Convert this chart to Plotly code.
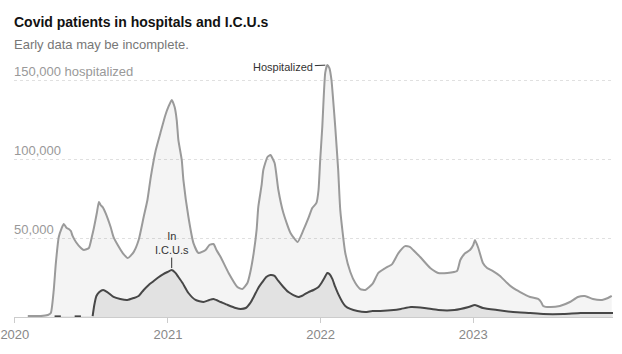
import plotly.graph_objects as go

# ---- data ----
hosp_dates = [
    "2020-02-01", "2020-03-03", "2020-03-20", "2020-03-27", "2020-04-03", "2020-04-08", "2020-04-15",
    "2020-04-22", "2020-04-27", "2020-05-04", "2020-05-09", "2020-05-14", "2020-05-18", "2020-05-26",
    "2020-06-07", "2020-06-14", "2020-06-26", "2020-07-03", "2020-07-08", "2020-07-15", "2020-07-20",
    "2020-07-24", "2020-07-29", "2020-08-05", "2020-08-17", "2020-08-24", "2020-09-03", "2020-09-15",
    "2020-09-27", "2020-10-11", "2020-10-23", "2020-11-04", "2020-11-13", "2020-11-21", "2020-12-03",
    "2020-12-14", "2020-12-26", "2021-01-03", "2021-01-10", "2021-01-17", "2021-01-22", "2021-01-26",
    "2021-02-03", "2021-02-07", "2021-02-19", "2021-03-03", "2021-03-15", "2021-04-01", "2021-04-10",
    "2021-04-20", "2021-04-27", "2021-05-07", "2021-05-26", "2021-06-16", "2021-06-28", "2021-07-10",
    "2021-07-17", "2021-07-25", "2021-08-01", "2021-08-05", "2021-08-13", "2021-08-17", "2021-08-27",
    "2021-09-03", "2021-09-13", "2021-09-22", "2021-10-04", "2021-10-21", "2021-11-07", "2021-11-21",
    "2021-12-03", "2021-12-12", "2021-12-22", "2021-12-27", "2021-12-31", "2022-01-05", "2022-01-12",
    "2022-01-17", "2022-01-22", "2022-01-27", "2022-01-31", "2022-02-05", "2022-02-12", "2022-02-17",
    "2022-03-01", "2022-03-13", "2022-03-25", "2022-04-06", "2022-04-18", "2022-05-05", "2022-05-19",
    "2022-06-05", "2022-06-21", "2022-07-06", "2022-07-22", "2022-08-03", "2022-08-15", "2022-08-27",
    "2022-09-20", "2022-10-09", "2022-10-31", "2022-11-23", "2022-12-01", "2022-12-13", "2022-12-24",
    "2023-01-01", "2023-01-05", "2023-01-13", "2023-01-24", "2023-02-03", "2023-02-17", "2023-03-06",
    "2023-03-23", "2023-04-06", "2023-04-23", "2023-05-17", "2023-06-05", "2023-06-12", "2023-06-17",
    "2023-07-03", "2023-07-27", "2023-08-20", "2023-09-08", "2023-09-25", "2023-10-14", "2023-11-05",
    "2023-11-19", "2023-11-28",
]
hosp_values = [
    600, 600, 1300, 2500, 17000, 34000, 50600,
    56300, 58900, 56300, 55700, 54400, 51300, 47500,
    43700, 42400, 43700, 50600, 56300, 65800, 72800,
    70900, 69600, 65800, 57000, 50600, 45600, 40500,
    37300, 41100, 48700, 63300, 74100, 88600, 105700,
    116500, 127900, 133600, 137400, 132900, 124700, 112000,
    99400, 86700, 63300, 46800, 40500, 42400, 45600,
    46200, 42400, 38000, 27900, 19000, 17700, 21500,
    28500, 40500, 55100, 69600, 83600, 93100, 101300,
    102500, 97500, 80400, 65800, 53200, 47500, 55100,
    62700, 69000, 72200, 80400, 99400, 120300, 154500,
    159500, 157600, 150000, 137400, 120300, 93100, 67700,
    40500, 28500, 21500, 17700, 17100, 20900, 27900,
    31000, 33500, 40500, 44900, 44300, 41100, 38000,
    31000, 27900, 27900, 29100, 36100, 40500, 42400,
    45600, 48700, 43700, 34200, 31000, 29100, 26000,
    21500, 18400, 15800, 12700, 11400, 9500, 7000,
    6300, 7000, 9500, 12700, 13300, 11400, 10800,
    12000, 13300,
]

icu_dates = [
    "2020-04-05", "2020-04-20", "2020-04-21", "2020-05-23", "2020-06-07", "2020-06-08",
    "2020-07-05", "2020-07-09", "2020-07-14", "2020-07-21", "2020-07-30", "2020-08-09", "2020-08-24",
    "2020-09-09", "2020-09-26", "2020-10-11", "2020-10-23", "2020-11-04", "2020-11-16", "2020-11-25",
    "2020-12-07", "2020-12-21", "2020-12-31", "2021-01-10", "2021-01-19", "2021-01-26", "2021-02-05",
    "2021-02-19", "2021-03-08", "2021-03-27", "2021-04-10", "2021-04-20", "2021-05-07", "2021-05-24",
    "2021-06-12", "2021-06-24", "2021-07-06", "2021-07-17", "2021-07-25", "2021-08-05", "2021-08-15",
    "2021-08-24", "2021-09-03", "2021-09-13", "2021-09-22", "2021-10-04", "2021-10-16", "2021-10-28",
    "2021-11-09", "2021-11-21", "2021-12-03", "2021-12-15", "2021-12-27", "2022-01-03", "2022-01-10",
    "2022-01-17", "2022-01-22", "2022-01-29", "2022-02-05", "2022-02-12", "2022-02-22", "2022-03-01",
    "2022-03-13", "2022-03-30", "2022-04-18", "2022-05-05", "2022-05-24", "2022-06-25", "2022-07-12",
    "2022-08-05", "2022-09-06", "2022-10-09", "2022-11-17", "2022-12-21", "2023-01-05", "2023-01-24",
    "2023-02-27", "2023-04-06", "2023-05-17", "2023-06-17", "2023-08-05", "2023-09-15", "2023-12-01",
]
icu_values = [
    400, 400, None, 400, 400, None,
    600, 7600, 13300, 15800, 17100, 15800, 12700,
    11400, 10800, 12000, 13300, 17100, 20300, 22200,
    24700, 27200, 28500, 29700, 27900, 25300, 21500,
    15200, 10800, 9500, 10800, 11400, 9500, 7600,
    5700, 5100, 5700, 8900, 12700, 18400, 22200,
    25300, 26600, 26000, 22800, 19000, 15800, 13900,
    12700, 13900, 15800, 17100, 19000, 21500, 24700,
    27900, 27200, 24100, 19000, 14600, 9500, 7000,
    5100, 3800, 3200, 3800, 3800, 4400, 5100,
    6300, 5700, 4400, 4400, 6300, 7600, 5700,
    4400, 3200, 2500, 1900, 1900, 2500, 2500,
]

grid_values = [50000, 100000, 150000]
grid_labels = ["50,000", "100,000", "150,000 hospitalized"]
year_ticks = ["2020-01-01", "2021-01-01", "2022-01-01", "2023-01-01"]
year_labels = ["2020", "2021", "2022", "2023"]

# ---- layout geometry ----
W, H = 622, 354
M_L, M_R, M_T, M_B = 14, 9, 60, 37
PLOT_H = H - M_T - M_B
FONT = "Liberation Sans, Arial, sans-serif"


def paper_y(px):
    return (H - M_B - px) / PLOT_H


def paper_x(px):
    return (px - M_L) / (W - M_L - M_R)


fig = go.Figure()
fig.add_trace(go.Scatter(
    x=hosp_dates, y=hosp_values, mode="lines",
    line=dict(color="#9a9a9a", width=2, shape="spline", smoothing=0.5),
    fill="tozeroy", fillcolor="rgba(0,0,0,0.045)",
    hoverinfo="skip", showlegend=False,
))
fig.add_trace(go.Scatter(
    x=icu_dates, y=icu_values, mode="lines", connectgaps=False,
    line=dict(color="#474747", width=2, shape="spline", smoothing=0.5),
    fill="tozeroy", fillcolor="rgba(0,0,0,0.07)",
    hoverinfo="skip", showlegend=False,
))

annotations = []
# title / subtitle
annotations.append(dict(
    xref="paper", yref="paper", x=paper_x(12), y=paper_y(22),
    xanchor="left", yanchor="middle", showarrow=False,
    text="<b>Covid patients in hospitals and I.C.U.s</b>",
    font=dict(family=FONT, size=14, color="#121212"),
))
annotations.append(dict(
    xref="paper", yref="paper", x=paper_x(12), y=paper_y(44),
    xanchor="left", yanchor="middle", showarrow=False,
    text="Early data may be incomplete.",
    font=dict(family=FONT, size=13, color="#777777"),
))
# y labels above gridlines
for v, lab in zip(grid_values, grid_labels):
    annotations.append(dict(
        xref="paper", yref="y", x=paper_x(12), y=v,
        xanchor="left", yanchor="bottom", showarrow=False, yshift=-1,
        text=lab, font=dict(family=FONT, size=13, color="#999999"),
    ))

# peak callouts
hi = max(range(len(hosp_values)), key=lambda i: hosp_values[i])
annotations.append(dict(
    x=hosp_dates[hi], y=hosp_values[hi], xref="x", yref="y",
    text="Hospitalized", showarrow=True, arrowhead=0, arrowwidth=1,
    arrowcolor="#333333", ax=-44, ay=2, standoff=2,
    font=dict(family=FONT, size=11, color="#333333"),
))
icu_valid = [(v if v is not None else -1) for v in icu_values]
ii = max(range(len(icu_valid)), key=lambda i: icu_valid[i])
annotations.append(dict(
    x=icu_dates[ii], y=icu_values[ii], xref="x", yref="y",
    text="In<br>I.C.U.s", showarrow=True, arrowhead=0, arrowwidth=1,
    arrowcolor="#333333", ax=0, ay=-27, standoff=2,
    font=dict(family=FONT, size=11, color="#333333"),
))

fig.update_layout(
    width=W, height=H,
    margin=dict(l=M_L, r=M_R, t=M_T, b=M_B, autoexpand=False),
    paper_bgcolor="white", plot_bgcolor="white",
    font=dict(family=FONT),
    annotations=annotations,
    xaxis=dict(
        type="date", range=["2019-12-30", "2023-12-01"], automargin=False,
        tickvals=year_ticks, ticktext=year_labels,
        ticks="outside", ticklen=5, tickcolor="#cccccc", tickwidth=1,
        showline=True, linecolor="#cccccc", linewidth=1,
        showgrid=False, zeroline=False,
        tickfont=dict(family=FONT, size=13, color="#888888"),
    ),
    yaxis=dict(
        range=[0, 162700], tickvals=grid_values, showticklabels=False, automargin=False,
        showgrid=True, gridcolor="#e0e0e0", griddash="3px,3px", gridwidth=1,
        zeroline=False, showline=False, ticks="",
    ),
    hovermode=False,
)

fig.write_html("out.html", config={"displayModeBar": False})
